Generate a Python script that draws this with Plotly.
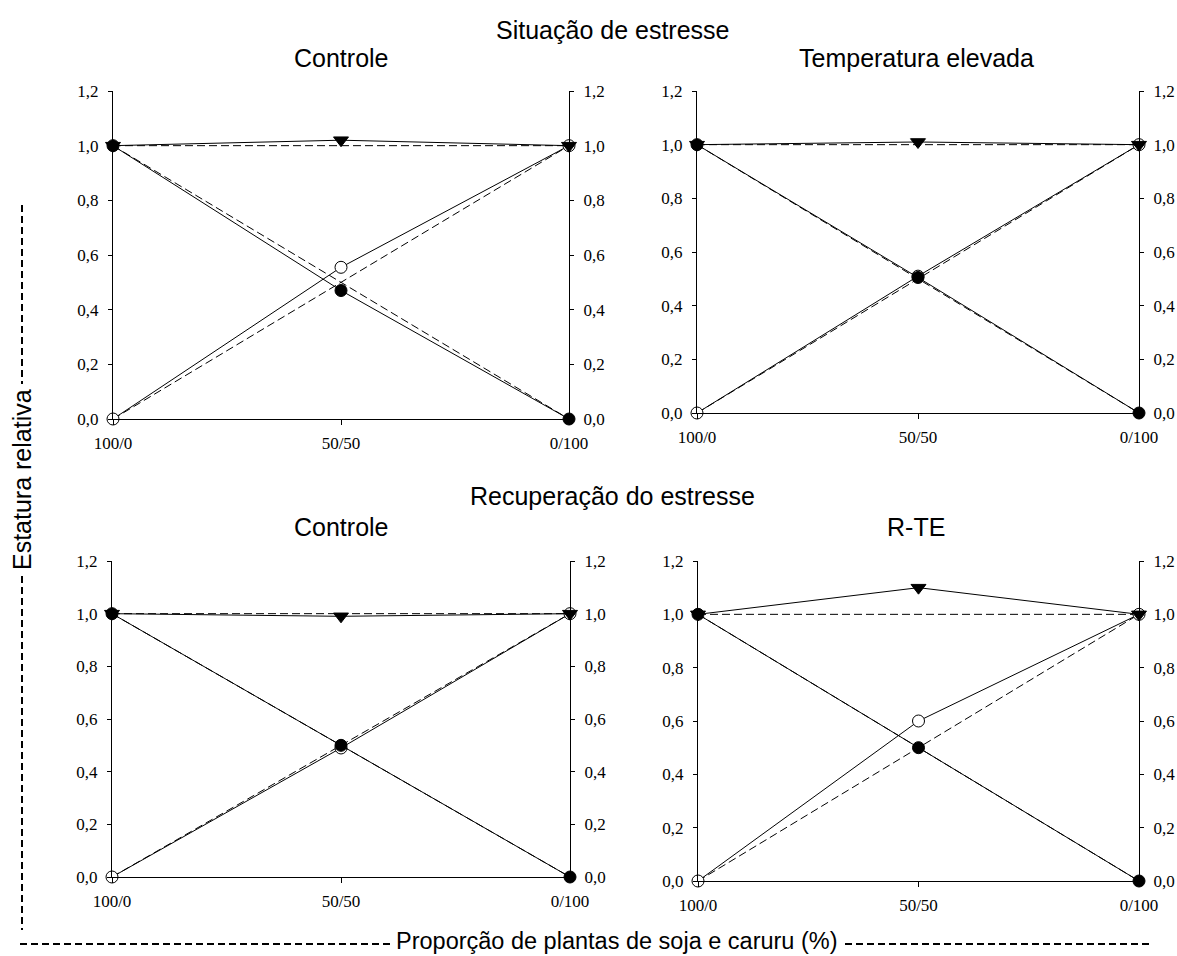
import plotly.graph_objects as go

# ---------------- data ----------------
categories = ["100/0", "50/50", "0/100"]
x_pos = [0, 1, 2]

panel_titles = ["Controle", "Temperatura elevada", "Controle", "R-TE"]

# observed relative height (soja = filled circle, caruru = open circle, total = triangle)
soja_obs = [
    [1.00, 0.47, 0.00],
    [1.00, 0.505, 0.00],
    [1.00, 0.50, 0.00],
    [1.00, 0.50, 0.00],
]
caruru_obs = [
    [0.00, 0.555, 1.00],
    [0.00, 0.51, 1.00],
    [0.00, 0.49, 1.00],
    [0.00, 0.60, 1.00],
]
total_obs = [
    [1.00, 1.02, 1.00],
    [1.00, 1.01, 1.00],
    [1.00, 0.99, 1.00],
    [1.00, 1.10, 1.00],
]
# expected (dashed) lines
soja_esp = [1.0, 0.5, 0.0]
caruru_esp = [0.0, 0.5, 1.0]
total_esp = [1.0, 1.0, 1.0]

y_ticks = [0.0, 0.2, 0.4, 0.6, 0.8, 1.0, 1.2]
y_ticktext = ["0,0", "0,2", "0,4", "0,6", "0,8", "1,0", "1,2"]

# ---------------- layout geometry (pixels) ----------------
W, H = 1177, 956
# (left, right, top, bottom) in px
boxes = [
    (113, 569, 91, 419),
    (697, 1139, 91, 413),
    (112, 570, 561, 877),
    (698, 1139, 561, 881),
]

def px_x(p):
    return p / W

def px_y(p):
    return 1 - p / H

fig = go.Figure()

serif = "Liberation Serif"
sans = "Liberation Sans"
tickfont = dict(family=serif, size=17, color="black")

layout = dict(
    template="none",
    width=W, height=H,
    margin=dict(l=0, r=0, t=0, b=0, pad=0, autoexpand=False),
    paper_bgcolor="white", plot_bgcolor="white",
    showlegend=False,
)

for i in range(4):
    n = i + 1
    xa = "x" if n == 1 else f"x{n}"
    ya = "y" if n == 1 else f"y{n}"
    yr = f"y{n + 4}"
    l, r, t, b = boxes[i]

    # dashed expected lines
    for ys in (soja_esp, caruru_esp, total_esp):
        fig.add_trace(go.Scatter(
            x=x_pos, y=ys, xaxis=xa, yaxis=ya, mode="lines",
            line=dict(color="black", width=1, dash="8px,4px"),
            hoverinfo="skip", cliponaxis=False))

    # caruru (open circle)
    fig.add_trace(go.Scatter(
        x=x_pos, y=caruru_obs[i], xaxis=xa, yaxis=ya, mode="lines+markers",
        line=dict(color="black", width=1),
        marker=dict(symbol="circle", size=12, color="white",
                    line=dict(color="black", width=1)),
        cliponaxis=False))
    # total (triangle down)
    fig.add_trace(go.Scatter(
        x=x_pos, y=total_obs[i], xaxis=xa, yaxis=ya, mode="lines+markers",
        line=dict(color="black", width=1),
        marker=dict(symbol="triangle-down", size=13, color="black",
                    line=dict(color="black", width=1)),
        cliponaxis=False))
    # soja (filled circle)
    fig.add_trace(go.Scatter(
        x=x_pos, y=soja_obs[i], xaxis=xa, yaxis=ya, mode="lines+markers",
        line=dict(color="black", width=1),
        marker=dict(symbol="circle", size=12, color="black",
                    line=dict(color="black", width=1)),
        cliponaxis=False))
    # empty trace for right axis
    fig.add_trace(go.Scatter(x=[None], y=[None], xaxis=xa, yaxis=yr,
                             mode="markers", hoverinfo="skip"))

    common = dict(showline=True, linecolor="black", linewidth=1,
                  ticks="outside", tickcolor="black", tickwidth=1,
                  showgrid=False, zeroline=False, tickfont=tickfont,
                  automargin=False, fixedrange=True)
    xkey = "xaxis" if n == 1 else f"xaxis{n}"
    ykey = "yaxis" if n == 1 else f"yaxis{n}"
    layout[xkey] = dict(
        domain=[px_x(l), px_x(r)], range=[0, 2], anchor=ya,
        tickvals=x_pos, ticktext=categories, ticklen=5,
        ticklabelstandoff=4, **common)
    layout[ykey] = dict(
        domain=[px_y(b), px_y(t)], range=[0, 1.2], anchor=xa, side="left",
        tickvals=y_ticks, ticktext=y_ticktext, ticklen=4,
        ticklabelstandoff=6, **common)
    layout[f"yaxis{n + 4}"] = dict(
        range=[0, 1.2], anchor=xa, overlaying=ya, side="right",
        tickvals=y_ticks, ticktext=y_ticktext, ticklen=4,
        ticklabelstandoff=6, **common)

fig.update_layout(**layout)

title_font = dict(family=sans, size=25, color="black")
xtitle_font = dict(family=sans, size=23.5, color="black")
annotations = [
    dict(text="Situação de estresse", x=px_x(612), y=px_y(30), font=title_font),
    dict(text=panel_titles[0], x=px_x(341), y=px_y(58), font=title_font),
    dict(text=panel_titles[1], x=px_x(916), y=px_y(58), font=title_font),
    dict(text="Recuperação do estresse", x=px_x(612), y=px_y(496), font=title_font),
    dict(text=panel_titles[2], x=px_x(341), y=px_y(527), font=title_font),
    dict(text=panel_titles[3], x=px_x(916), y=px_y(527), font=title_font),
    dict(text="Proporção de plantas de soja e caruru (%)", x=px_x(617),
         y=px_y(941), font=xtitle_font),
    dict(text="Estatura relativa", x=px_x(22), y=px_y(480), textangle=-90,
         font=title_font),
]
for a in annotations:
    fig.add_annotation(xref="paper", yref="paper", showarrow=False,
                       xanchor="center", yanchor="middle", **a)

dash_style = dict(color="black", width=2, dash="7px,4px")
seg = [
    (20, 944, 391, 944),
    (845, 944, 1150, 944),
    (22, 205, 22, 384),
    (22, 576, 22, 930),
]
for x0, y0, x1, y1 in seg:
    fig.add_shape(type="line", xref="paper", yref="paper",
                  x0=px_x(x0), y0=px_y(y0), x1=px_x(x1), y1=px_y(y1),
                  line=dash_style)

fig.write_html(
    "out.html",
    config={"displayModeBar": False},
    post_script="document.body.style.margin='0';document.body.style.padding='0';"
                "document.body.style.overflow='hidden';",
)
